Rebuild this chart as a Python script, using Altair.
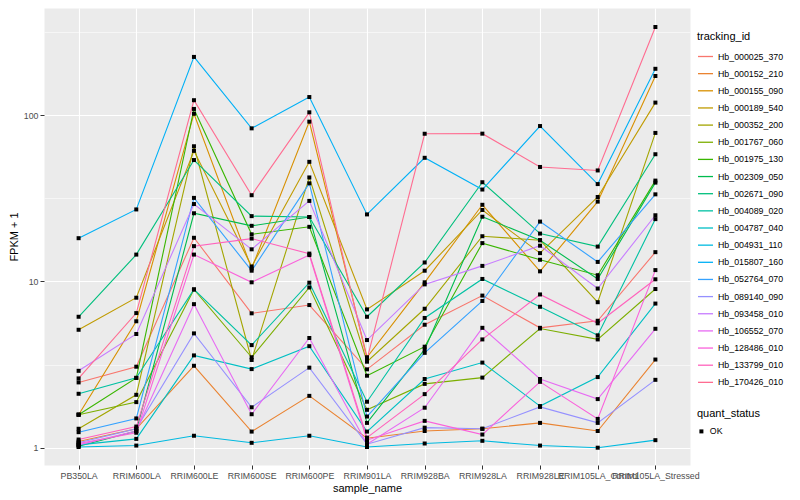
import altair as alt
import pandas as pd

samples = ["PB350LA", "RRIM600LA", "RRIM600LE", "RRIM600SE", "RRIM600PE", "RRIM901LA",
           "RRIM928BA", "RRIM928LA", "RRIM928LE", "RRIM105LA_Control", "RRIM105LA_Stressed"]

tracking_ids = ["Hb_000025_370", "Hb_000152_210", "Hb_000155_090", "Hb_000189_540",
                "Hb_000352_200", "Hb_001767_060", "Hb_001975_130", "Hb_002309_050",
                "Hb_002671_090", "Hb_004089_020", "Hb_004787_040", "Hb_004931_110",
                "Hb_015807_160", "Hb_052764_070", "Hb_089140_090", "Hb_093458_010",
                "Hb_106552_070", "Hb_128486_010", "Hb_133799_010", "Hb_170426_010"]

palette = ["#F8766D", "#EA8331", "#D89000", "#C09B00", "#A3A500", "#7CAE00", "#39B600",
           "#00BB4E", "#00BF7D", "#00C1A3", "#00BFC4", "#00BAE0", "#00B0F6", "#35A2FF",
           "#9590FF", "#C77CFF", "#E76BF3", "#FA62DB", "#FF62BC", "#FF6C91"]

# FPKM + 1 values per sample (order of `samples`)
hb_000025_370 = [2.47, 3.07, 18.3, 6.43, 7.21, 2.96, 5.49, 8.22, 5.26, 5.8, 15.0]
hb_000152_210 = [1.09, 1.30, 3.11, 1.25, 2.05, 1.14, 1.26, 1.30, 1.41, 1.26, 3.39]
hb_000155_090 = [1.58, 5.76, 102, 11.97, 91.4, 3.5, 9.88, 28.9, 11.5, 30.2, 172]
hb_000189_540 = [5.12, 7.98, 61, 12.3, 52.4, 6.79, 11.6, 26.9, 14.8, 32.2, 119]
hb_000352_200 = [1.30, 2.08, 65, 3.37, 42.2, 3.29, 6.85, 18.7, 17.7, 7.5, 78.2]
hb_001767_060 = [1.58, 1.88, 8.95, 3.5, 9.2, 1.69, 2.42, 2.64, 5.21, 4.48, 9.0]
hb_001975_130 = [1.58, 2.63, 109, 19.2, 21.3, 2.71, 4.05, 17.0, 13.5, 10.9, 40.4]
hb_002309_050 = [1.02, 1.26, 25.7, 21.6, 24.4, 1.41, 3.9, 24.5, 17.7, 10.35, 39.3]
hb_002671_090 = [6.13, 14.5, 53.7, 24.7, 24.4, 6.13, 13.0, 39.5, 19.4, 16.2, 58.2]
hb_004089_020 = [2.11, 2.63, 8.95, 4.14, 9.83, 1.89, 6.03, 10.35, 7.04, 4.74, 23.7]
hb_004787_040 = [1.04, 1.13, 3.59, 2.97, 4.08, 1.25, 2.59, 3.25, 1.78, 2.66, 7.36]
hb_004931_110 = [1.01, 1.03, 1.18, 1.07, 1.18, 1.01, 1.06, 1.10, 1.03, 1.0, 1.11]
hb_015807_160 = [18.2, 27.1, 224, 83.3, 128.5, 25.3, 55.4, 35.7, 86, 38.5, 190]
hb_052764_070 = [1.24, 1.50, 31.8, 11.6, 38.9, 1.54, 3.72, 7.63, 22.9, 13.1, 33.4]
hb_089140_090 = [1.07, 1.30, 4.87, 1.75, 3.03, 1.05, 1.32, 1.30, 1.76, 1.41, 2.56]
hb_093458_010 = [2.90, 4.83, 29.2, 15.6, 30.5, 4.44, 9.6, 12.4, 16.4, 9.06, 25.0]
hb_106552_070 = [1.04, 1.26, 7.3, 1.59, 4.57, 1.05, 1.74, 5.26, 2.59, 1.96, 5.19]
hb_128486_010 = [1.06, 1.23, 14.5, 9.88, 14.4, 1.11, 1.45, 1.20, 2.49, 1.49, 11.7]
hb_133799_010 = [1.12, 1.34, 16.3, 18.1, 14.7, 1.15, 2.10, 4.48, 8.35, 5.6, 10.3]
hb_170426_010 = [2.61, 6.45, 123, 33.0, 104, 3.4, 77.3, 77.4, 48.8, 46.5, 339]

series_values = [hb_000025_370, hb_000152_210, hb_000155_090, hb_000189_540, hb_000352_200,
                 hb_001767_060, hb_001975_130, hb_002309_050, hb_002671_090, hb_004089_020,
                 hb_004787_040, hb_004931_110, hb_015807_160, hb_052764_070, hb_089140_090,
                 hb_093458_010, hb_106552_070, hb_128486_010, hb_133799_010, hb_170426_010]

y_breaks = [1, 3.1623, 10, 31.623, 100, 316.23]

rows = []
for tid, vals in zip(tracking_ids, series_values):
    for s, v in zip(samples, vals):
        rows.append({"tracking_id": tid, "sample_name": s, "fpkm1": v, "quant_status": "OK"})
df = pd.DataFrame(rows)

major_test = "datum.value == 1 || datum.value == 10 || datum.value == 100"
FONT = "Liberation Sans"

x_enc = alt.X(
    "sample_name:N", sort=samples, title="sample_name",
    scale=alt.Scale(type="point", padding=0.6),
    axis=alt.Axis(labelAngle=0, labelOverlap=False, grid=True, gridColor="white",
                  gridWidth=1.1, tickColor="#333333", tickSize=4, domain=False,
                  labelColor="#4D4D4D", labelFontSize=8.8, labelFont=FONT,
                  titleFont=FONT, titleFontSize=11, titleFontWeight="normal",
                  titleColor="black", labelPadding=2, titlePadding=3),
)
y_enc = alt.Y(
    "fpkm1:Q", title="FPKM + 1",
    scale=alt.Scale(type="log", domain=[0.787, 441], nice=False, zero=False),
    axis=alt.Axis(values=y_breaks,
                  labelExpr=f"({major_test}) ? format(datum.value, 'd') : ''",
                  grid=True, gridColor="white",
                  gridWidth={"condition": {"test": major_test, "value": 1.1}, "value": 0.55},
                  tickColor={"condition": {"test": major_test, "value": "#333333"},
                             "value": "transparent"},
                  tickSize=4, domain=False, labelColor="#4D4D4D", labelFontSize=8.8,
                  labelFont=FONT, titleFont=FONT, titleFontSize=11,
                  titleFontWeight="normal", titleColor="black", labelPadding=2,
                  titlePadding=4),
)

lines = alt.Chart(df).mark_line(strokeWidth=1.1, clip=True).encode(
    x=x_enc, y=y_enc,
    color=alt.Color("tracking_id:N", scale=alt.Scale(domain=tracking_ids, range=palette),
                    legend=alt.Legend(title="tracking_id", orient="none", legendX=653,
                                      legendY=23, symbolType="stroke", symbolSize=225,
                                      symbolStrokeWidth=1.3, rowPadding=3.15,
                                      labelFontSize=8.8, labelFont=FONT,
                                      titleFont=FONT, titleFontSize=11,
                                      titleFontWeight="normal", titlePadding=6,
                                      labelColor="black", titleColor="black")),
)

points = alt.Chart(df).mark_point(filled=True, size=16, opacity=1, color="black",
                                  clip=True).encode(
    x=x_enc, y=y_enc,
    shape=alt.Shape("quant_status:N", scale=alt.Scale(domain=["OK"], range=["square"]),
                    legend=alt.Legend(title="quant_status", orient="none", legendX=653,
                                      legendY=400, symbolSize=16, symbolFillColor="black",
                                      symbolStrokeColor="black", labelFontSize=8.8,
                                      labelFont=FONT, titleFont=FONT, titleFontSize=11,
                                      titleFontWeight="normal", titlePadding=8,
                                      labelColor="black", titleColor="black")),
)

chart = alt.layer(lines, points).properties(
    width=646, height=457,
    padding={"left": 0, "top": 0, "right": 0, "bottom": 0},
    background="white",
).configure_view(fill="#EBEBEB", stroke="transparent")

chart.save("out.html", embed_options={"renderer": "svg", "actions": False})
